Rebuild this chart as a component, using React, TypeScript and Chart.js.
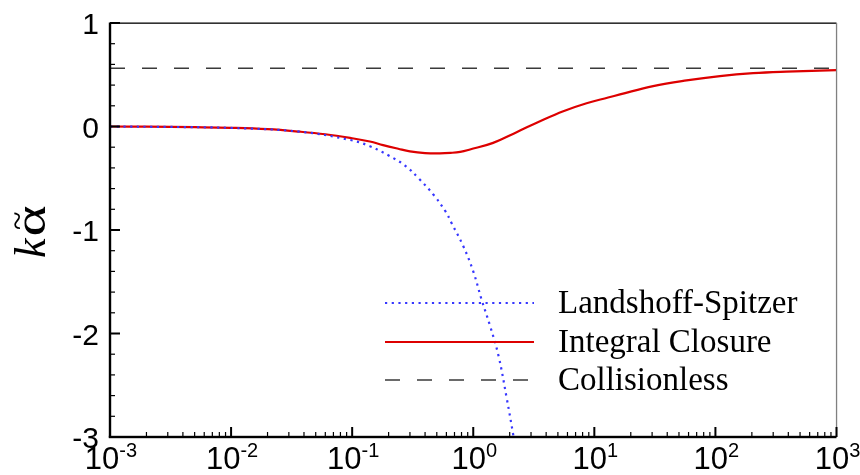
import React, { useEffect, useRef } from "react";
import { Chart, registerables } from "chart.js";

Chart.register(...registerables);

// ---- data ----
const xDecadeExponents = [-3, -2, -1, 0, 1, 2, 3];
const yMajorTicks = [1, 0, -1, -2, -3];
const yTickLabels = ["1", "0", "-1", "-2", "-3"];
const seriesNames = ["Landshoff-Spitzer", "Integral Closure", "Collisionless"];
const yTitleK = "k";
const yTitleAlpha = "\u03B1";
const yTitleTilde = "~";

const lsX = [0.001, 0.003, 0.01, 0.037, 0.096, 0.14, 0.2, 0.275, 0.36, 0.47, 0.59, 0.66, 0.83, 1.0, 1.17, 1.38, 1.62, 1.9, 2.14, 2.3];
const lsY = [-0.0014, -0.004, -0.014, -0.05, -0.13, -0.19, -0.28, -0.38, -0.51, -0.66, -0.82, -0.93, -1.16, -1.4, -1.67, -1.93, -2.22, -2.64, -2.98, -3.2];

const icX = [0.001, 0.002, 0.005, 0.01, 0.02, 0.037, 0.06, 0.096, 0.14, 0.18, 0.24, 0.3, 0.4, 0.53, 0.65, 0.78, 0.94, 1.46, 2.28, 3.56, 5.54, 8.63, 13, 16.3, 30.6, 57.8, 109, 205, 387, 1000];
const icY = [0, -0.002, -0.007, -0.013, -0.026, -0.05, -0.075, -0.11, -0.145, -0.18, -0.215, -0.24, -0.257, -0.26, -0.255, -0.245, -0.222, -0.158, -0.055, 0.051, 0.148, 0.225, 0.28, 0.31, 0.39, 0.445, 0.487, 0.515, 0.53, 0.545];

const clX = [0.001, 1000];
const clY = [0.563, 0.563];

const colors = { ls: "#3636ff", ic: "#dd0000", cl: "#3a3a3a" };

const toPoints = (xs: number[], ys: number[]) => xs.map((x, i) => ({ x, y: ys[i] }));

const framePlugin = {
  id: "frame",
  afterDatasetsDraw(chart: any) {
    const ctx: CanvasRenderingContext2D = chart.ctx;
    const { left, right, top, bottom } = chart.chartArea;
    const xs = chart.scales.x;
    const ys = chart.scales.y;
    ctx.save();

    // borders
    ctx.fillStyle = "#000";
    ctx.fillRect(left, top - 0.5, right - left, 1.3);
    ctx.fillStyle = "#808080";
    ctx.fillRect(right - 0.6, top, 1.3, bottom - top);
    ctx.fillStyle = "#000";
    ctx.fillRect(left - 1.2, top - 0.5, 2.4, bottom - top + 1);
    ctx.fillRect(left - 1.2, bottom - 1.2, right - left + 1.2, 2.4);

    // y ticks (inward)
    for (let i = 0; i <= 20; i++) {
      const v = -3 + i * 0.2;
      const py = ys.getPixelForValue(v);
      const major = i % 5 === 0;
      ctx.fillStyle = "#000";
      if (major) ctx.fillRect(left, py - 1, 10, 2);
      else ctx.fillRect(left, py - 0.6, 5, 1.2);
    }
    // x ticks (inward)
    xDecadeExponents.forEach((e) => {
      const base = Math.pow(10, e);
      const px = xs.getPixelForValue(base);
      ctx.fillRect(px - 1, bottom - 10, 2, 10);
      if (e < 3) {
        for (let k = 2; k <= 9; k++) {
          const mx = xs.getPixelForValue(k * base);
          ctx.fillRect(mx - 0.6, bottom - 5, 1.2, 5);
        }
      }
    });

    // y tick labels
    ctx.fillStyle = "#000";
    ctx.font = "30px 'Liberation Sans', Arial, sans-serif";
    ctx.textAlign = "right";
    ctx.textBaseline = "alphabetic";
    yMajorTicks.forEach((v, i) => {
      const py = ys.getPixelForValue(v);
      ctx.fillText(yTickLabels[i], left - 11, py + 11);
    });

    // x tick labels 10^e
    ctx.textAlign = "left";
    xDecadeExponents.forEach((e) => {
      const px = xs.getPixelForValue(Math.pow(10, e));
      ctx.font = "31px 'Liberation Sans', Arial, sans-serif";
      const wBase = ctx.measureText("10").width;
      ctx.font = "20px 'Liberation Sans', Arial, sans-serif";
      const expText = String(e);
      const wExp = ctx.measureText(expText).width;
      const x0 = px - (wBase + wExp) / 2 + 1;
      ctx.font = "31px 'Liberation Sans', Arial, sans-serif";
      ctx.fillText("10", x0, bottom + 32);
      ctx.font = "20px 'Liberation Sans', Arial, sans-serif";
      ctx.fillText(expText, x0 + wBase, bottom + 20);
    });

    // y axis title (rotated)
    ctx.save();
    ctx.translate(45, 258);
    ctx.rotate(-Math.PI / 2);
    ctx.textAlign = "left";
    ctx.font = "italic 44px 'Liberation Serif', 'Times New Roman', serif";
    ctx.fillText(yTitleK, 0, 0);
    const kw = ctx.measureText(yTitleK).width;
    ctx.font = "44px 'Liberation Serif', 'Times New Roman', serif";
    const aw = ctx.measureText(yTitleAlpha).width * 1.35;
    ctx.save();
    ctx.translate(kw + 2, 0);
    ctx.scale(1.35, 1);
    ctx.fillText(yTitleAlpha, 0, 0);
    ctx.restore();
    ctx.font = "34px 'Liberation Serif', 'Times New Roman', serif";
    ctx.textAlign = "center";
    ctx.fillText(yTitleTilde, kw + 2 + aw / 2, -17);
    ctx.restore();

    // legend
    const rows = [
      { y: 303, color: colors.ls, width: 2.2, dash: [2.2, 4.5] },
      { y: 342, color: colors.ic, width: 2.2, dash: [] as number[] },
      { y: 380, color: colors.cl, width: 1.5, dash: [15, 17] },
    ];
    rows.forEach((r, i) => {
      ctx.beginPath();
      ctx.strokeStyle = r.color;
      ctx.lineWidth = r.width;
      ctx.setLineDash(r.dash);
      ctx.moveTo(385, r.y);
      ctx.lineTo(534, r.y);
      ctx.stroke();
      ctx.setLineDash([]);
      ctx.fillStyle = "#000";
      ctx.font = "33px 'Liberation Serif', 'Times New Roman', serif";
      ctx.textAlign = "left";
      ctx.textBaseline = "alphabetic";
      ctx.fillText(seriesNames[i], 558, r.y + 10);
    });

    ctx.restore();
  },
};

export default function App() {
  const ref = useRef<HTMLCanvasElement | null>(null);
  useEffect(() => {
    if (!ref.current) return;
    const chart = new Chart(ref.current, {
      type: "scatter",
      data: {
        datasets: [
          {
            label: seriesNames[0],
            data: toPoints(lsX, lsY),
            showLine: true,
            borderColor: colors.ls,
            borderWidth: 2.2,
            borderDash: [2.2, 4.5],
            pointRadius: 0,
            tension: 0.4,
          },
          {
            label: seriesNames[1],
            data: toPoints(icX, icY),
            showLine: true,
            borderColor: colors.ic,
            borderWidth: 2.2,
            pointRadius: 0,
            tension: 0.4,
          },
          {
            label: seriesNames[2],
            data: toPoints(clX, clY),
            showLine: true,
            borderColor: colors.cl,
            borderWidth: 1.5,
            borderDash: [15, 17],
            pointRadius: 0,
          },
        ],
      } as any,
      options: {
        responsive: false,
        animation: false,
        devicePixelRatio: 1,
        layout: { padding: { left: 110, right: 23.5, top: 23, bottom: 38 } },
        scales: {
          x: { type: "logarithmic", min: 0.001, max: 1000, display: false },
          y: { type: "linear", min: -3, max: 1, display: false },
        },
        plugins: { legend: { display: false }, tooltip: { enabled: false } },
      } as any,
      plugins: [framePlugin],
    });
    return () => chart.destroy();
  }, []);
  return (
    <div style={{ position: "absolute", left: 0, top: 0, width: 860, height: 475, background: "#fff" }}>
      <canvas ref={ref} width={860} height={475} style={{ display: "block" }} />
    </div>
  );
}
